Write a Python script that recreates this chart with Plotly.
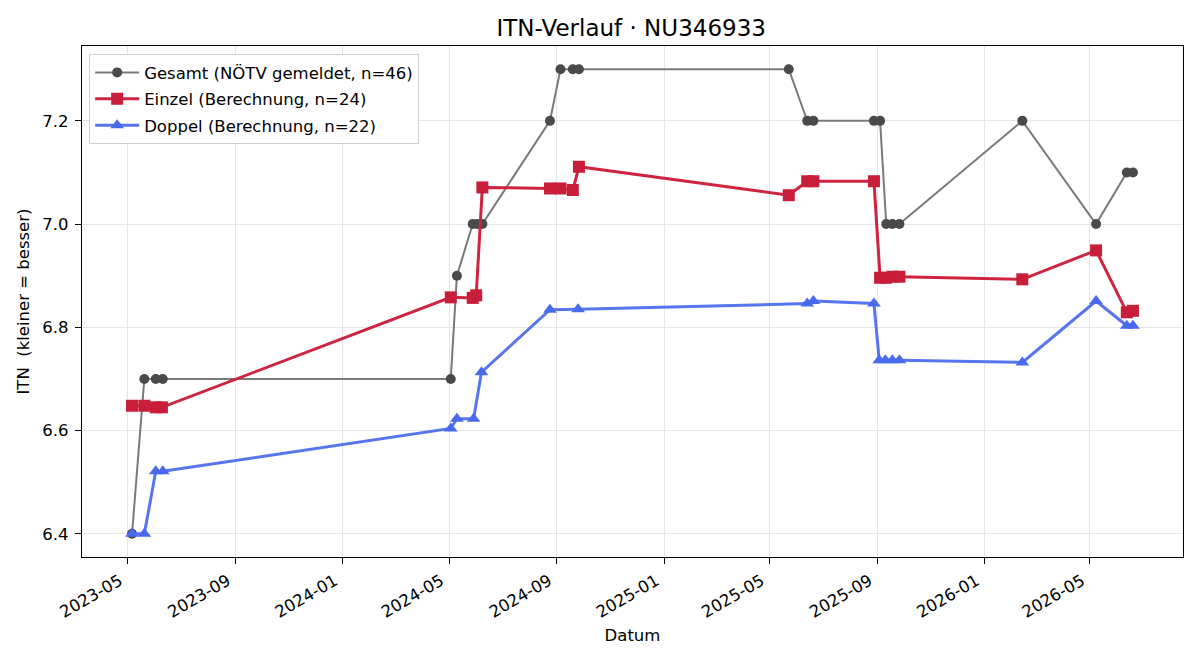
import plotly.graph_objects as go

# ---- data ----
gesamt_dates = ["2023-05-06", "2023-05-20", "2023-06-02", "2023-06-10",
                "2024-05-03", "2024-05-10", "2024-05-28", "2024-06-02", "2024-06-08",
                "2024-08-24", "2024-09-05", "2024-09-19", "2024-09-26",
                "2025-05-23", "2025-06-13", "2025-06-20",
                "2025-08-28", "2025-09-04", "2025-09-11", "2025-09-18", "2025-09-26",
                "2026-02-13", "2026-05-08", "2026-06-12", "2026-06-19"]
gesamt_vals = [6.4, 6.7, 6.7, 6.7,
               6.7, 6.9, 7.0, 7.0, 7.0,
               7.2, 7.3, 7.3, 7.3,
               7.3, 7.2, 7.2,
               7.2, 7.2, 7.0, 7.0, 7.0,
               7.2, 7.0, 7.1, 7.1]

einzel_dates = ["2023-05-06", "2023-05-20", "2023-06-02", "2023-06-09",
                "2024-05-03", "2024-05-28", "2024-06-01", "2024-06-08",
                "2024-08-24", "2024-09-05", "2024-09-19", "2024-09-26",
                "2025-05-23", "2025-06-13", "2025-06-20",
                "2025-08-28", "2025-09-04", "2025-09-11", "2025-09-18", "2025-09-26",
                "2026-02-13", "2026-05-08", "2026-06-12", "2026-06-19"]
einzel_vals = [6.648, 6.648, 6.645, 6.645,
               6.858, 6.857, 6.862, 7.071,
               7.069, 7.069, 7.066, 7.111,
               7.056, 7.083, 7.083,
               7.083, 6.896, 6.896, 6.898, 6.898,
               6.893, 6.949, 6.829, 6.832]

doppel_dates = ["2023-05-06", "2023-05-20", "2023-06-02", "2023-06-10",
                "2024-05-03", "2024-05-10", "2024-05-29", "2024-06-07",
                "2024-08-24", "2024-09-25",
                "2025-06-13", "2025-06-20",
                "2025-08-28", "2025-09-03", "2025-09-10", "2025-09-18", "2025-09-26",
                "2026-02-13", "2026-05-08", "2026-06-12", "2026-06-19"]
doppel_vals = [6.400, 6.400, 6.521, 6.521,
               6.604, 6.623, 6.623, 6.713,
               6.834, 6.835,
               6.846, 6.851,
               6.846, 6.736, 6.736, 6.736, 6.736,
               6.732, 6.851, 6.803, 6.803]

tick_dates = ["2023-05-01", "2023-09-01", "2024-01-01", "2024-05-01", "2024-09-01",
              "2025-01-01", "2025-05-01", "2025-09-01", "2026-01-01", "2026-05-01"]
tick_labels = ["2023-05", "2023-09", "2024-01", "2024-05", "2024-09",
               "2025-01", "2025-05", "2025-09", "2026-01", "2026-05"]
y_ticks = [6.4, 6.6, 6.8, 7.0, 7.2]

FONT = "DejaVu Sans"
FS = 16.5

fig = go.Figure()
fig.add_trace(go.Scatter(
    x=gesamt_dates, y=gesamt_vals, mode="lines+markers",
    name="Gesamt (NÖTV gemeldet, n=46)", legendgroup="g",
    line=dict(color="#7a7a7a", width=2),
    marker=dict(symbol="circle", size=10, color="#4a4a4a"),
))
fig.add_trace(go.Scatter(
    x=einzel_dates, y=einzel_vals, mode="lines+markers",
    name="Einzel (Berechnung, n=24)", legendgroup="e",
    line=dict(color="#cf2440", width=3),
    marker=dict(symbol="square", size=12, color="#c81e3a"),
))
fig.add_trace(go.Scatter(
    x=doppel_dates, y=doppel_vals, mode="lines+markers",
    name="Doppel (Berechnung, n=22)", legendgroup="d",
    line=dict(color="#5775ee", width=3),
    marker=dict(symbol="triangle-up", size=12, color="#4a6aee"),
))

fig.update_layout(
    width=1200, height=660,
    margin=dict(l=82, r=17, t=46, b=103),
    paper_bgcolor="white", plot_bgcolor="white",
    font=dict(family=FONT, size=FS, color="black"),
    title=dict(text="ITN-Verlauf · NU346933", x=0.526, xanchor="center",
               y=1 - 28 / 660, yanchor="middle", yref="container",
               font=dict(family=FONT, size=23, color="black")),
    legend=dict(x=0.0065, y=0.984, xanchor="left", yanchor="top",
                bgcolor="rgba(255,255,255,0.85)", bordercolor="#d0d0d0", borderwidth=1,
                font=dict(family=FONT, size=FS, color="black"),
                itemwidth=44, tracegroupgap=2),
    showlegend=True,
)
fig.update_xaxes(
    type="date", range=["2023-03-10", "2026-08-15"],
    tickmode="array", tickvals=tick_dates, ticktext=tick_labels,
    tickangle=-30, ticks="outside", ticklen=6, tickwidth=1.3, tickcolor="black",
    ticklabelshift=-8, ticklabelstandoff=1,
    showgrid=True, gridcolor="#e6e6e6", gridwidth=1,
    showline=True, linecolor="black", linewidth=1.3, mirror=True,
    zeroline=False,
    tickfont=dict(family=FONT, size=FS, color="black"),
    title=dict(text="Datum", font=dict(family=FONT, size=FS, color="black"), standoff=8),
)
fig.update_yaxes(
    range=[6.355, 7.345],
    tickmode="array", tickvals=y_ticks, ticktext=[f"{v:.1f}" for v in y_ticks],
    ticks="outside", ticklen=6, tickwidth=1.3, tickcolor="black",
    ticklabelstandoff=3,
    showgrid=True, gridcolor="#e6e6e6", gridwidth=1,
    showline=True, linecolor="black", linewidth=1.3, mirror=True,
    zeroline=False,
    tickfont=dict(family=FONT, size=FS, color="black"),
    title=dict(text="ITN\u00a0 (kleiner = besser)", font=dict(family=FONT, size=FS, color="black"), standoff=8),
)

fig.write_html("out.html")
